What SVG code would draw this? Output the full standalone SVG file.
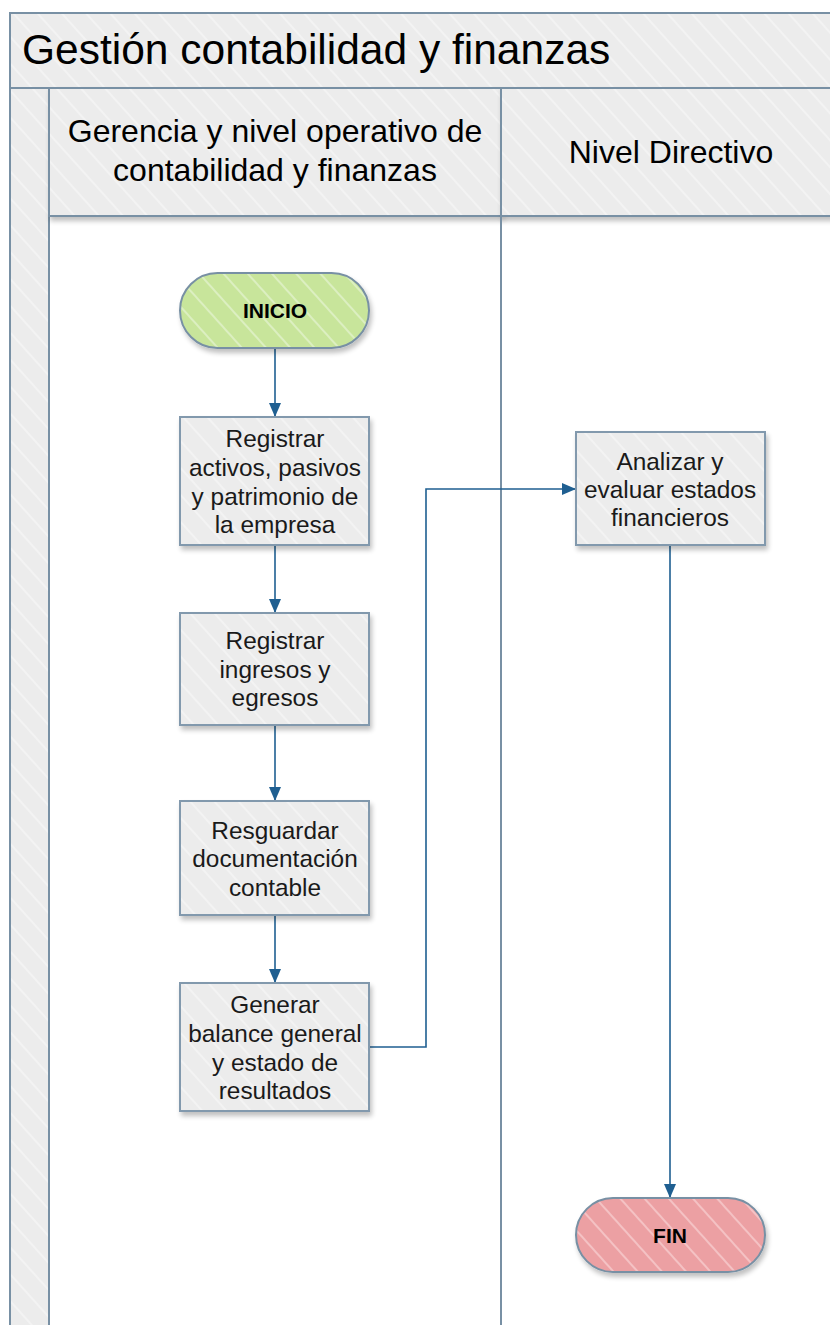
<svg xmlns="http://www.w3.org/2000/svg" width="830" height="1325" viewBox="0 0 830 1325">
  <style>
    .pool { fill: url(#stripes); stroke: #7890a4; stroke-width: 2; }
    .line { fill: none; stroke: #7890a4; stroke-width: 2; }
    .box { fill: url(#stripes); stroke: #8299ad; stroke-width: 2; filter: url(#shadow); }
    .start { fill: url(#stripesGreen); stroke: #7890a4; stroke-width: 2; filter: url(#shadow); }
    .end { fill: url(#stripesRed); stroke: #7890a4; stroke-width: 2; filter: url(#shadow); }
    .title { font-family: "Liberation Sans", Arial, sans-serif; font-size: 42.5px; fill: #000; }
    .lane { font-family: "Liberation Sans", Arial, sans-serif; font-size: 32px; fill: #000; text-anchor: middle; }
    .label { font-family: "Liberation Sans", Arial, sans-serif; font-size: 24.4px; fill: #1a1a1a; text-anchor: middle; }
    .term { font-family: "Liberation Sans", Arial, sans-serif; font-size: 21px; font-weight: bold; fill: #000; text-anchor: middle; }
    .conn { fill: none; stroke: #1f5f91; stroke-width: 1.6; }
  </style>
  <defs>
    <pattern id="stripes" patternUnits="userSpaceOnUse" width="18" height="18" patternTransform="rotate(-42)">
      <rect width="18" height="18" fill="#ececec"/>
      <rect x="0" y="0" width="2" height="18" fill="#f3f3f3"/>
    </pattern>
    <pattern id="stripesGreen" patternUnits="userSpaceOnUse" width="18" height="18" patternTransform="rotate(-42)">
      <rect width="18" height="18" fill="#c8e59b"/>
      <rect x="0" y="0" width="2" height="18" fill="#dcefc1"/>
    </pattern>
    <pattern id="stripesRed" patternUnits="userSpaceOnUse" width="18" height="18" patternTransform="rotate(-42)">
      <rect width="18" height="18" fill="#eca0a3"/>
      <rect x="0" y="0" width="2" height="18" fill="#f4c2c4"/>
    </pattern>
    <filter id="shadow" x="-10%" y="-10%" width="125%" height="130%">
      <feGaussianBlur in="SourceAlpha" stdDeviation="2.5"/>
      <feOffset dx="2" dy="4" result="b"/>
      <feComponentTransfer><feFuncA type="linear" slope="0.25"/></feComponentTransfer>
      <feMerge><feMergeNode/><feMergeNode in="SourceGraphic"/></feMerge>
    </filter>
    <marker id="arrow" viewBox="0 0 14 12" refX="14" refY="6" markerWidth="14" markerHeight="12" markerUnits="userSpaceOnUse" orient="auto">
      <path d="M0,0 L14,6 L0,12 Z" fill="#1f5f91"/>
    </marker>
  </defs>

  <rect width="830" height="1325" fill="#ffffff"/>

  <!-- pool: title band, left strip, lane headers -->
  <g id="pool">
    <rect class="pool" x="10" y="13" width="830" height="75"/>
    <rect class="pool" x="10" y="88" width="39" height="1250"/>
    <rect class="pool" x="49" y="88" width="452" height="128" filter="url(#shadow)"/>
    <rect class="pool" x="501" y="88" width="340" height="128" filter="url(#shadow)"/>
    <line class="line" x1="501" y1="216" x2="501" y2="1330"/>
    <text class="title" x="22" y="64">Gestión contabilidad y finanzas</text>
    <text class="lane" x="275" y="142">Gerencia y nivel operativo de</text>
    <text class="lane" x="275" y="181">contabilidad y finanzas</text>
    <text class="lane" x="671" y="163">Nivel Directivo</text>
  </g>

  <!-- connectors -->
  <g id="connectors">
    <path class="conn" d="M275,348 V417" marker-end="url(#arrow)"/>
    <path class="conn" d="M275,545 V613" marker-end="url(#arrow)"/>
    <path class="conn" d="M275,725 V801" marker-end="url(#arrow)"/>
    <path class="conn" d="M275,915 V983" marker-end="url(#arrow)"/>
    <path class="conn" d="M369,1047 H426 V489 H576" marker-end="url(#arrow)"/>
    <path class="conn" d="M670,545 V1198" marker-end="url(#arrow)"/>
  </g>

  <g id="inicio">
    <rect class="start" x="180" y="273" width="189" height="75" rx="37.5" ry="37.5"/>
    <text class="term" x="275" y="318">INICIO</text>
  </g>

  <g id="registrar-activos">
    <rect class="box" x="180" y="417" width="189" height="128"/>
    <text class="label" x="275" y="447">Registrar</text>
    <text class="label" x="275" y="476">activos, pasivos</text>
    <text class="label" x="275" y="505">y patrimonio de</text>
    <text class="label" x="275" y="533">la empresa</text>
  </g>

  <g id="registrar-ingresos">
    <rect class="box" x="180" y="613" width="189" height="112"/>
    <text class="label" x="275" y="649">Registrar</text>
    <text class="label" x="275" y="678">ingresos y</text>
    <text class="label" x="275" y="706">egresos</text>
  </g>

  <g id="resguardar">
    <rect class="box" x="180" y="801" width="189" height="114"/>
    <text class="label" x="275" y="839">Resguardar</text>
    <text class="label" x="275" y="867">documentación</text>
    <text class="label" x="275" y="896">contable</text>
  </g>

  <g id="generar-balance">
    <rect class="box" x="180" y="983" width="189" height="128"/>
    <text class="label" x="275" y="1013">Generar</text>
    <text class="label" x="275" y="1042">balance general</text>
    <text class="label" x="275" y="1071">y estado de</text>
    <text class="label" x="275" y="1099">resultados</text>
  </g>

  <g id="analizar">
    <rect class="box" x="576" y="432" width="189" height="113"/>
    <text class="label" x="670" y="470">Analizar y</text>
    <text class="label" x="670" y="498">evaluar estados</text>
    <text class="label" x="670" y="526">financieros</text>
  </g>

  <g id="fin">
    <rect class="end" x="576" y="1198" width="189" height="74" rx="37" ry="37"/>
    <text class="term" x="670" y="1243">FIN</text>
  </g>
</svg>
